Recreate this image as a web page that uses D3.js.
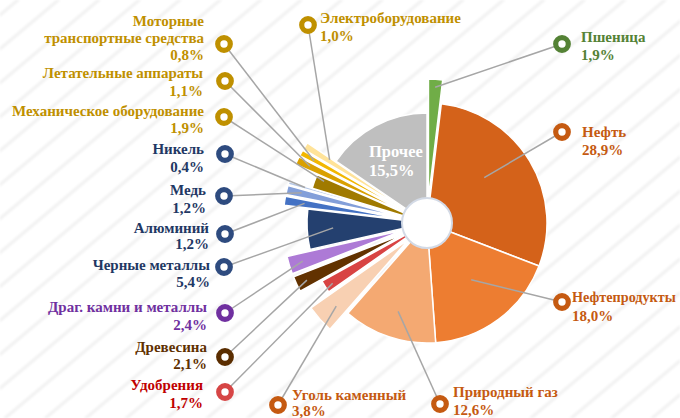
<!DOCTYPE html>
<html><head><meta charset="utf-8">
<script src="https://cdn.jsdelivr.net/npm/d3@7"></script>
<style>body{margin:0;background:#fff}svg{display:block}</style>
</head><body>
<svg id="chart" width="680" height="418"></svg>
<script>
// ---- data ----
const categories = ["Пшеница","Нефть","Нефтепродукты","Природный газ","Уголь каменный","Удобрения","Древесина","Драг. камни и металлы","Черные металлы","Алюминий","Медь","Никель","Механическое оборудование","Летательные аппараты","Моторные транспортные средства","Электроборудование","Прочее"];
const shares = [1.9,28.9,18.0,12.6,3.8,1.7,2.1,2.4,5.4,1.2,1.2,0.4,1.9,1.1,0.8,1.0,15.5];
const valueLabels = ["1,9%","28,9%","18,0%","12,6%","3,8%","1,7%","2,1%","2,4%","5,4%","1,2%","1,2%","0,4%","1,9%","1,1%","0,8%","1,0%","15,5%"];
const nameLines = [["Пшеница"],["Нефть"],["Нефтепродукты"],["Природный газ"],["Уголь каменный"],["Удобрения"],["Древесина"],["Драг. камни и металлы"],["Черные металлы"],["Алюминий"],["Медь"],["Никель"],["Механическое оборудование"],["Летательные аппараты"],["Моторные","транспортные средства"],["Электроборудование"],["Прочее"]];

// ---- styles ----
const sliceColors = ["#70AD47","#D4621A","#ED7D31","#F4A972","#F8D0B2","#D84343","#623200","#AD7AD6","#24406F","#4472C4","#839FD9","#B4C7E7","#A07A00","#D9A000","#F2B700","#FFE399","#BFBFBF"];
const textColors = ["#548235","#C55A11","#C55A11","#C55A11","#C55A11","#C00000","#5F3000","#7030A0","#1F3864","#1F3864","#1F3864","#1F3864","#BF9000","#BF9000","#BF9000","#BF9000","#FFFFFF"];
const markerColors = ["#548235","#C55A11","#C55A11","#C55A11","#C55A11","#D64545","#5A2D00","#7030A0","#2E4B7F","#2E4B7F","#2E4B7F","#2E4B7F","#BF9000","#BF9000","#BF9000","#BF9000",null];
const exploded = [1,0,0,0,1,0,1,1,0,1,1,1,0,1,1,1,0];
const radiusScale = [1,1,1,1,1,1,1,1,1,1,1,1,1,1,1,1,0.917];
// label layout: marker (mx,my), anchor, text x, baselines, leader (fraction within slice angle, radius), optional font size
const labelLayout = [
  {mx:562,my:44, a:"start", tx:581, ys:[41.5,60], f:0.5, r:112},
  {mx:562,my:132,a:"start", tx:582, ys:[137,155], f:0.43, r:73},
  {mx:562,my:302,a:"start", tx:572, ys:[302,321], f:0.48, r:72, fs:14.2},
  {mx:440,my:404,a:"start", tx:453, ys:[397,415], f:0.49, r:93},
  {mx:278,my:405,a:"start", tx:292, ys:[400,416], f:0.45, r:99},
  {mx:225,my:392,a:"end",   tx:203, ys:[390,408], f:0.4, r:112},
  {mx:225,my:357,a:"end",   tx:207, ys:[352,369], f:0.45, r:109},
  {mx:225,my:313,a:"end",   tx:207, ys:[312,330], f:0.5, r:106},
  {mx:224,my:267,a:"end",   tx:210, ys:[270,287], f:0.5, r:94},
  {mx:225,my:234,a:"end",   tx:209, ys:[233,249], f:0.55, r:100},
  {mx:224,my:196,a:"end",   tx:206, ys:[195,213], f:0.6, r:105},
  {mx:225,my:154,a:"end",   tx:204, ys:[154,171.5], f:0.6, r:103},
  {mx:224,my:117,a:"end",   tx:204, ys:[116,133], f:0.75, r:111},
  {mx:225,my:81, a:"end",   tx:203, ys:[78,96], f:0.55, r:106},
  {mx:224,my:44, a:"end",   tx:204, ys:[26,43,60], f:0.4, r:105},
  {mx:308,my:25, a:"start", tx:320, ys:[23,41], f:0.7, r:92},
  null
];

const W = 680, H = 418, cx = 427, cy = 223, R = 120, explodeBy = 24;
const svg = d3.select("#chart");

// background stripes
const defs = svg.append("defs");
const pat = defs.append("pattern").attr("id","stripes").attr("patternUnits","userSpaceOnUse")
  .attr("width",26).attr("height",26).attr("patternTransform","rotate(-40)");
pat.append("rect").attr("width",26).attr("height",26).attr("fill","#ffffff");
pat.append("rect").attr("x",0).attr("y",10).attr("width",26).attr("height",3).attr("fill","#F1F1F1");
defs.append("filter").attr("id","blur").append("feGaussianBlur").attr("stdDeviation",1.2);
svg.append("rect").attr("width",W).attr("height",H).attr("fill","url(#stripes)").attr("filter","url(#blur)");

const pie = d3.pie().sort(null).value(d => d).startAngle(0).endAngle(2*Math.PI);
const arcsData = pie(shares);
const arc = d3.arc().innerRadius(0);

const g = svg.append("g").attr("transform", `translate(${cx},${cy})`);

function offset(d, i) {
  const mid = (d.startAngle + d.endAngle) / 2;
  const k = exploded[i] ? explodeBy : 0;
  return [Math.sin(mid) * k, -Math.cos(mid) * k];
}

g.selectAll("path.slice").data(arcsData).join("path")
  .attr("class","slice")
  .attr("d", (d,i) => arc.outerRadius(R * radiusScale[i])(d))
  .attr("transform", (d,i) => { const o = offset(d,i); return `translate(${o[0]},${o[1]})`; })
  .attr("fill", (d,i) => sliceColors[i])
  .attr("stroke","#ffffff").attr("stroke-width",1.5).attr("stroke-linejoin","round");

// center hole
g.append("circle").attr("r",25).attr("fill","#ffffff").attr("stroke","#D3DAE6").attr("stroke-width",2);

// leader lines + markers + labels
const font = "'Liberation Serif','Times New Roman',serif";
arcsData.forEach((d, i) => {
  const L = labelLayout[i];
  if (!L) return;
  const ang = d.startAngle + (d.endAngle - d.startAngle) * L.f;
  const o = offset(d, i);
  const ex = cx + o[0] + Math.sin(ang) * L.r;
  const ey = cy + o[1] - Math.cos(ang) * L.r;
  svg.append("line").attr("x1", L.mx).attr("y1", L.my).attr("x2", ex).attr("y2", ey)
    .attr("stroke","#A6A6A6").attr("stroke-width",1.5);
});
arcsData.forEach((d, i) => {
  const L = labelLayout[i];
  if (!L) return;
  svg.append("circle").attr("cx", L.mx).attr("cy", L.my).attr("r", 6.3)
    .attr("fill","#ffffff").attr("stroke", markerColors[i]).attr("stroke-width", 5.2);
  const lines = nameLines[i].concat([valueLabels[i]]);
  const t = svg.append("g");
  lines.forEach((s, j) => {
    t.append("text").attr("x", L.tx).attr("y", L.ys[j]).attr("text-anchor", L.a)
      .attr("font-family", font).attr("font-weight","bold")
      .attr("font-size", (L.fs && j === 0) ? L.fs : 15)
      .attr("fill", textColors[i]).text(s);
  });
});

// "Прочее" inside label
const otherLines = nameLines[16].concat([valueLabels[16]]);
otherLines.forEach((s, j) => {
  svg.append("text").attr("x", 369).attr("y", 157 + j * 19).attr("text-anchor","start")
    .attr("font-family", font).attr("font-weight","bold").attr("font-size", 16.5)
    .attr("fill", "#ffffff").text(s);
});
</script>
</body></html>
